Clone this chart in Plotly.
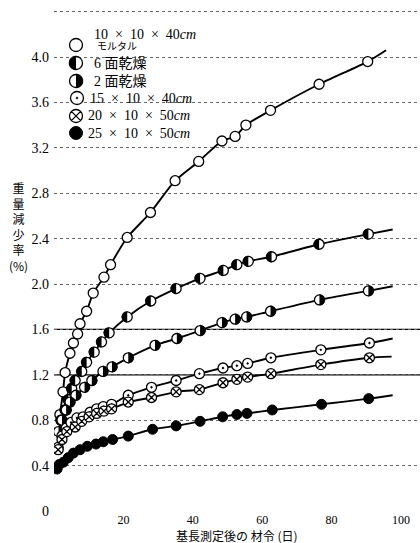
import math
import plotly.graph_objects as go

# ---------------- data ----------------
mortar_days = [1.7, 2.6, 3.2, 4.6, 5.6, 6.8, 7.5, 9.4, 11.3, 14.4, 16.3, 21.1, 27.8, 34.9, 41.7, 48.4, 52.2, 55.3, 62.4, 76.4, 90.4]
mortar_vals = [0.85, 1.05, 1.22, 1.39, 1.48, 1.56, 1.65, 1.76, 1.92, 2.06, 2.17, 2.41, 2.63, 2.91, 3.08, 3.26, 3.30, 3.40, 3.53, 3.76, 3.96]
mortar_end = (95.7, 4.06)

six_days = [2.0, 3.2, 4.1, 5.1, 6.1, 8.0, 9.4, 11.6, 13.7, 15.9, 21.1, 27.9, 35.2, 42.1, 48.8, 52.7, 56.0, 62.7, 76.4, 90.6]
six_vals = [0.80, 0.89, 0.98, 1.08, 1.15, 1.23, 1.31, 1.40, 1.49, 1.57, 1.71, 1.85, 1.96, 2.05, 2.12, 2.17, 2.20, 2.24, 2.35, 2.44]
six_end = (97.6, 2.48)

two_days = [1.3, 2.3, 3.5, 4.6, 6.3, 8.8, 10.9, 14.1, 16.7, 21.4, 29.1, 35.4, 42.1, 48.4, 52.2, 55.5, 62.4, 76.5, 90.6]
two_vals = [0.70, 0.80, 0.89, 0.96, 1.02, 1.09, 1.15, 1.23, 1.27, 1.35, 1.46, 1.52, 1.59, 1.66, 1.69, 1.71, 1.76, 1.86, 1.94]
two_end = (97.6, 1.98)

s15_days = [1.2, 2.3, 3.5, 4.9, 6.6, 8.4, 10.4, 12.3, 14.2, 16.6, 21.4, 28.1, 35.2, 41.9, 48.7, 52.7, 55.8, 62.5, 76.9, 90.9]
s15_vals = [0.56, 0.66, 0.73, 0.78, 0.82, 0.83, 0.87, 0.90, 0.92, 0.94, 1.02, 1.09, 1.15, 1.21, 1.26, 1.28, 1.30, 1.35, 1.42, 1.48]
s15_end = (97.6, 1.52)

s20_days = [1.2, 2.3, 3.7, 6.1, 8.0, 10.1, 12.3, 14.4, 16.6, 21.4, 28.1, 35.2, 41.9, 48.7, 52.7, 55.8, 62.5, 76.9, 90.9]
s20_vals = [0.54, 0.63, 0.70, 0.74, 0.79, 0.83, 0.86, 0.88, 0.90, 0.96, 1.00, 1.05, 1.07, 1.13, 1.16, 1.18, 1.21, 1.29, 1.35]
s20_end = (97.3, 1.36)

s25_days = [0.9, 1.5, 2.7, 4.1, 5.6, 7.5, 9.6, 12.1, 14.2, 16.9, 21.4, 28.4, 35.2, 42.1, 48.6, 52.7, 55.6, 62.9, 77.1, 90.7]
s25_vals = [0.37, 0.41, 0.43, 0.47, 0.51, 0.54, 0.57, 0.59, 0.61, 0.63, 0.66, 0.72, 0.75, 0.79, 0.83, 0.85, 0.86, 0.89, 0.94, 0.99]
s25_end = (97.6, 1.02)

y_tick_vals = [0, 0.4, 0.8, 1.2, 1.6, 2.0, 2.4, 2.8, 3.2, 3.6, 4.0, 4.4]
y_tick_text = ["0", "0.4", "0.8", "1.2", "1.6", "2.0", "2.4", "2.8", "3.2", "3.6", "4.0", ""]
x_tick_vals = [20, 40, 60, 80, 100]
x_tick_text = ["20", "40", "60", "80", "100"]
solid_grid_vals = [1.2, 1.6]

x_title = "基長測定後の 材令 (日)"
y_title_chars = ["重", "量", "減", "少", "率", "(%)"]

SP = "\u2002"
legend_header = f"10{SP}×{SP}10{SP}×{SP}40<i>cm</i>"
legend_labels = ["モルタル", "6 面乾燥", "2 面乾燥",
                 f"15{SP}×{SP}10{SP}×{SP}40<i>cm</i>",
                 f"20{SP}×{SP}10{SP}×{SP}50<i>cm</i>",
                 f"25{SP}×{SP}10{SP}×{SP}50<i>cm</i>"]
legend_kinds = ["open", "left", "right", "dot", "x", "filled"]

# ---------------- layout geometry ----------------
W, H = 420, 543
L, R, T, B = 54, 0, 5, 32
PW, PH = W - L - R, H - T - B
X_PER_DAY = 3.47
Y_PER_UNIT = 113.5
x_range = [0, PW / X_PER_DAY]
y_range = [0, PH / Y_PER_UNIT]

SERIF = "Liberation Serif, Noto Sans CJK JP, serif"
CJK = "Noto Sans CJK JP, sans-serif"


def px2paper(px, py):
    return (px - L) / PW, (H - B - py) / PH


def px2data(px, py):
    return (px - L) / X_PER_DAY, (H - B - py) / Y_PER_UNIT


def half_disk(days, vals, side, r_px, n=16):
    xs, ys = [], []
    start = math.pi / 2 if side == "left" else -math.pi / 2
    for d, v in zip(days, vals):
        for i in range(n + 1):
            a = start + math.pi * i / n
            xs.append(d + r_px * math.cos(a) / X_PER_DAY)
            ys.append(v + r_px * math.sin(a) / Y_PER_UNIT)
        xs.append(None)
        ys.append(None)
    return xs, ys


def add_marks(fig, days, vals, kind, size):
    base = dict(color="white", line=dict(color="black", width=1.3), size=size)
    if kind == "open":
        fig.add_trace(go.Scatter(x=days, y=vals, mode="markers", showlegend=False,
                                 marker=dict(symbol="circle", **base)))
    elif kind == "dot":
        fig.add_trace(go.Scatter(x=days, y=vals, mode="markers", showlegend=False,
                                 marker=dict(symbol="circle-dot", **base)))
    elif kind == "x":
        fig.add_trace(go.Scatter(x=days, y=vals, mode="markers", showlegend=False,
                                 marker=dict(symbol="circle-x", **base)))
    elif kind == "filled":
        fig.add_trace(go.Scatter(x=days, y=vals, mode="markers", showlegend=False,
                                 marker=dict(symbol="circle", size=size, color="black",
                                             line=dict(color="black", width=1))))
    else:
        fig.add_trace(go.Scatter(x=days, y=vals, mode="markers", showlegend=False,
                                 marker=dict(symbol="circle", **base)))
        hx, hy = half_disk(days, vals, kind, size / 2 + 0.4)
        fig.add_trace(go.Scatter(x=hx, y=hy, mode="lines", fill="toself", fillcolor="black",
                                 line=dict(color="black", width=0.5), showlegend=False,
                                 hoverinfo="skip"))


fig = go.Figure()

series = [
    (mortar_days, mortar_vals, mortar_end, "open"),
    (six_days, six_vals, six_end, "left"),
    (two_days, two_vals, two_end, "right"),
    (s15_days, s15_vals, s15_end, "dot"),
    (s20_days, s20_vals, s20_end, "x"),
    (s25_days, s25_vals, s25_end, "filled"),
]

for days, vals, end, kind in series:
    fig.add_trace(go.Scatter(
        x=list(days) + [end[0]], y=list(vals) + [end[1]],
        mode="lines", line=dict(color="black", width=1.9, shape="spline", smoothing=0.6),
        hoverinfo="skip", showlegend=False))

for days, vals, end, kind in series:
    add_marks(fig, days, vals, kind, 10)

# solid horizontal rules at 1.2 and 1.6
for v in solid_grid_vals:
    fig.add_shape(type="line", xref="paper", yref="y", x0=0, x1=1, y0=v, y1=v,
                  line=dict(color="black", width=1.2), layer="below")

# legend: icons are markers placed in the plot, labels are annotations
ann = []
hx, hy = px2paper(92, 34)
ann.append(dict(x=hx, y=hy, xref="paper", yref="paper", xanchor="left", yanchor="middle",
                text=legend_header, showarrow=False, font=dict(family=SERIF, size=14, color="black")))
icon_px = [(76, 45), (76, 63), (76, 81), (77, 98), (76, 116), (76, 133)]
text_px = [(95, 47), (92, 63), (92, 81), (88, 98), (86, 116), (86, 133)]
for kind, label, (ix, iy), (tx, ty) in zip(legend_kinds, legend_labels, icon_px, text_px):
    dx, dy = px2data(ix, iy)
    add_marks(fig, [dx], [dy], kind, 13)
    lx, ly = px2paper(tx, ty)
    size = 10 if label == "モルタル" else 14
    ann.append(dict(x=lx, y=ly, xref="paper", yref="paper", xanchor="left", yanchor="middle",
                    text=label, showarrow=False, font=dict(family=SERIF, size=size, color="black")))

# axis titles
ax, ay = px2paper(237, 535)
ann.append(dict(x=ax, y=ay, xref="paper", yref="paper", xanchor="center", yanchor="middle",
                text=x_title, showarrow=False, borderpad=0,
                font=dict(family=CJK, size=12, color="black")))
yx, yy = px2paper(18, 226)
ann.append(dict(x=yx, y=yy, xref="paper", yref="paper", xanchor="center", yanchor="middle",
                text="<br>".join(y_title_chars), showarrow=False,
                font=dict(family=CJK, size=12, color="black")))

fig.update_layout(
    width=W, height=H,
    margin=dict(l=L, r=R, t=T, b=B, autoexpand=False),
    paper_bgcolor="white", plot_bgcolor="white",
    showlegend=False,
    annotations=ann,
    xaxis=dict(range=x_range, tickvals=x_tick_vals, ticktext=x_tick_text,
               showgrid=False, zeroline=False, showline=False, ticks="",
               ticklabelstandoff=0,
               tickfont=dict(family=SERIF, size=12, color="black")),
    yaxis=dict(range=y_range, tickvals=y_tick_vals, ticktext=y_tick_text,
               showgrid=True, gridcolor="#666", gridwidth=1, griddash="dot",
               zeroline=False, showline=False, ticks="", ticklabelstandoff=4,
               tickfont=dict(family=SERIF, size=14, color="black")),
)

fig.write_html("out.html", config={"displayModeBar": False},
               post_script="document.body.style.margin='0';")
